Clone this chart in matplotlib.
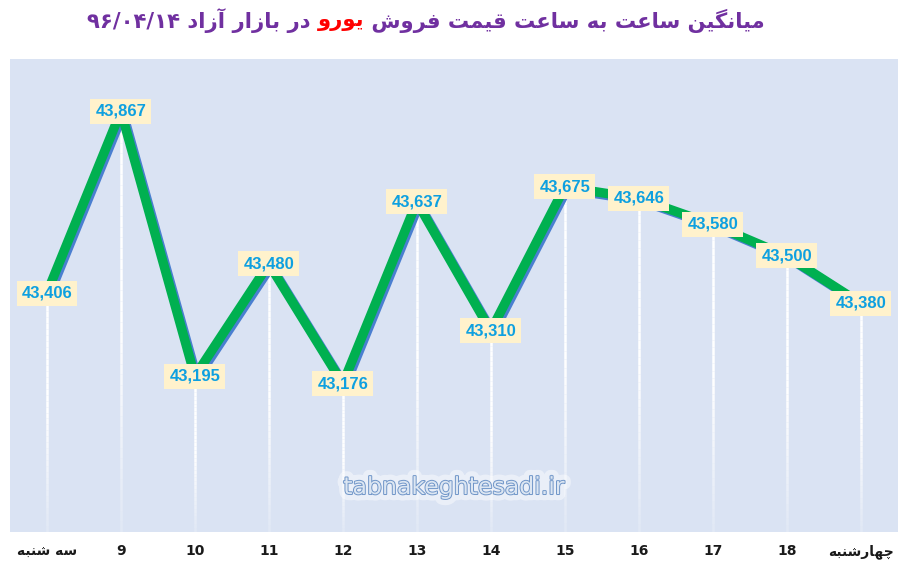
import matplotlib
matplotlib.use('Agg')
import matplotlib.pyplot as plt
import matplotlib.patheffects as pe
from matplotlib.collections import LineCollection
import numpy as np

# data
hours = ['سه شنبه', '9', '10', '11', '12', '13', '14', '15', '16', '17', '18', 'چهارشنبه']
prices = [43406, 43867, 43195, 43480, 43176, 43637, 43310, 43675, 43646, 43580, 43500, 43380]

title_left = 'میانگین ساعت به ساعت قیمت فروش'
title_red = 'یورو'
title_right = 'در بازار آزاد'
title_date = '۹۶/۰۴/۱۴'

# simple persian shaping (presentation forms) + reversal for RTL display
# (isolated, final, initial, medial)
FORMS = {
    'ا': ('\uFE8D', '\uFE8E', None, None),
    'آ': ('\uFE81', '\uFE82', None, None),
    'د': ('\uFEA9', '\uFEAA', None, None),
    'ر': ('\uFEAD', '\uFEAE', None, None),
    'ز': ('\uFEAF', '\uFEB0', None, None),
    'و': ('\uFEED', '\uFEEE', None, None),
    'ب': ('\uFE8F', '\uFE90', '\uFE91', '\uFE92'),
    'ت': ('\uFE95', '\uFE96', '\uFE97', '\uFE98'),
    'س': ('\uFEB1', '\uFEB2', '\uFEB3', '\uFEB4'),
    'ش': ('\uFEB5', '\uFEB6', '\uFEB7', '\uFEB8'),
    'ع': ('\uFEC9', '\uFECA', '\uFECB', '\uFECC'),
    'ف': ('\uFED1', '\uFED2', '\uFED3', '\uFED4'),
    'ق': ('\uFED5', '\uFED6', '\uFED7', '\uFED8'),
    'م': ('\uFEE1', '\uFEE2', '\uFEE3', '\uFEE4'),
    'ن': ('\uFEE5', '\uFEE6', '\uFEE7', '\uFEE8'),
    'ه': ('\uFEE9', '\uFEEA', '\uFEEB', '\uFEEC'),
    'ی': ('\uFBFC', '\uFBFD', '\uFBFE', '\uFBFF'),
    'گ': ('\uFB92', '\uFB93', '\uFB94', '\uFB95'),
    'چ': ('\uFB7A', '\uFB7B', '\uFB7C', '\uFB7D'),
}


def fa(s):
    out = []
    for i, c in enumerate(s):
        if c not in FORMS:
            out.append(c)
            continue
        prev = s[i - 1] if i > 0 else ''
        nxt = s[i + 1] if i + 1 < len(s) else ''
        jp = prev in FORMS and FORMS[prev][2] is not None
        jn = FORMS[c][2] is not None and nxt in FORMS
        iso, fin, ini, med = FORMS[c]
        if jp and jn:
            out.append(med)
        elif jp:
            out.append(fin)
        elif jn:
            out.append(ini)
        else:
            out.append(iso)
    return ''.join(out)[::-1]


def label(s):
    return s if s.isdigit() else fa(s)


fig = plt.figure(figsize=(9.04, 5.68), dpi=100)
ax = fig.add_axes([0.011, 0.0634, 0.982, 0.833])
ax.set_facecolor('#dae3f3')
for sp in ax.spines.values():
    sp.set_visible(False)

x = np.arange(len(prices))
y0 = 42800
ax.set_xlim(-0.5, len(prices) - 0.5)
ax.set_ylim(y0, 44000)

# white drop lines, fading towards the bottom
n = 40
for xi, yi in zip(x, prices):
    ys = np.linspace(yi, y0, n + 1)
    segs = [[(xi, ys[k]), (xi, ys[k + 1])] for k in range(n)]
    frac = np.linspace(0, 1, n)
    alphas = np.clip(1.0 - np.clip((frac - 0.5) / 0.5, 0, 1) * 0.8, 0, 1)
    cols = [(1, 1, 1, a) for a in alphas]
    ax.add_collection(LineCollection(segs, colors=cols, linewidths=1.8, zorder=1))

# main line with blue shadow
ax.plot(x, prices, color='#00b050', linewidth=6.8, solid_capstyle='butt',
        solid_joinstyle='round', zorder=3,
        path_effects=[pe.SimpleLineShadow(offset=(1.6, -1.6), shadow_color='#4a7fd0', alpha=1.0),
                      pe.Normal()])

# value labels
for xi, yi in zip(x, prices):
    ax.text(xi, yi, f'{yi:,}', ha='center', va='center', fontsize=12,
            fontweight='bold', color='#0ea0e0', zorder=5,
            family=['Liberation Sans', 'DejaVu Sans'],
            bbox=dict(boxstyle='square,pad=0.3', fc='#fff2cc', ec='none'))

ax.set_yticks([])
ax.set_xticks(x)
ax.set_xticklabels([label(h) for h in hours], fontsize=10, fontweight='bold',
                   color='#1a1a1a')
ax.tick_params(axis='x', length=0, pad=9)

# watermark
ax.text(0.5, 0.095, 'tabnakeghtesadi.ir', transform=ax.transAxes, ha='center',
        va='center', fontsize=17, color='#dce6f2', zorder=2,
        family=['Liberation Sans Narrow', 'DejaVu Sans'],
        path_effects=[pe.withStroke(linewidth=9, foreground=(1, 1, 1, 0.45)),
                      pe.withStroke(linewidth=1.4, foreground='#6f95c8')])

# title in three colored pieces
tkw = dict(fontsize=15.2, fontweight='bold', va='center')
mid = fig.text(0.377, 0.963, fa(title_red), color='#ff0000', ha='center', **tkw)
ax.annotate(title_date + ' ' + fa(title_right) + ' ', xy=(0, 0.5), xycoords=mid,
            ha='right', color='#7030a0', annotation_clip=False, **tkw)
ax.annotate(' ' + fa(title_left), xy=(1, 0.5), xycoords=mid,
            ha='left', color='#7030a0', annotation_clip=False, **tkw)

plt.savefig('out.png', dpi=100)
